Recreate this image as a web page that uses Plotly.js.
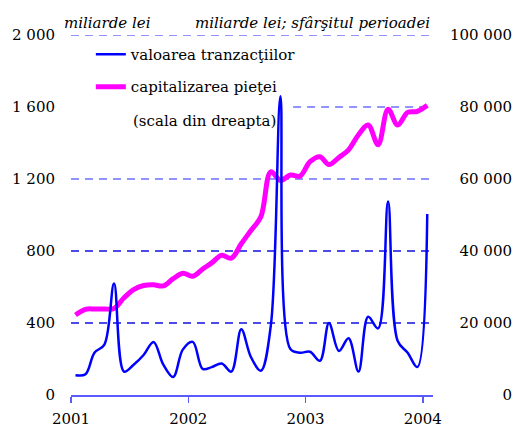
<!DOCTYPE html>
<html><head><meta charset="utf-8">
<script src="https://cdn.plot.ly/plotly-3.0.1.min.js"></script>
<style>html,body{margin:0;padding:0;background:#fff}</style>
</head><body><div id="chart" style="width:512px;height:428px"></div>
<script>
const months = [];
for (let y = 2001; y <= 2004; y++) for (let m = 1; m <= 12; m++) {
  if (y === 2004 && m > 1) break;
  months.push(y + '-' + String(m).padStart(2, '0') + '-15');
}
const tranzactii = [110,115,235,280,620,130,168,222,295,170,100,252,295,145,155,175,130,365,211,135,385,1660,255,235,240,190,400,245,315,130,435,370,1075,300,235,155,1005];
const capitalizare = [22200,23800,23900,23900,24000,27000,29300,30400,30600,30300,32300,33800,33000,35000,36700,38800,38000,42000,45700,49500,62000,59600,61100,60800,64800,66200,64000,66000,68100,72300,75000,69500,79400,75000,78500,78800,80500];
const leftTicks = [0,400,800,1200,1600,2000];
const leftLabels = ['0','400','800','1 200','1 600','2 000'];
const rightTicks = [0,20000,40000,60000,80000,100000];
const rightLabels = ['0','20 000','40 000','60 000','80 000','100 000'];
const yearTicks = ['2001-01-01','2002-01-01','2003-01-01','2004-01-01'];
const yearLabels = ['2001','2002','2003','2004'];
const seriesNames = ['valoarea tranzacţiilor','capitalizarea pieţei'];

const FONT = 'DejaVu Serif';
const FS = 15;
const gridDark = '#1010e0', gridLight = '#7070ff';
function hline(v, color, x0) {
  return {type:'line', xref:'x domain', yref:'y2', x0:x0, x1:1, y0:v, y1:v, layer:'below',
          line:{color:color, width:1.3, dash:'8px,6px'}};
}
const tf = {family:FONT, size:FS, color:'#000'};

const data = [
  {x: months, y: capitalizare, name: seriesNames[1], yaxis: 'y', type:'scatter', mode:'lines',
   line:{color:'#ff00ff', width:5, shape:'spline', smoothing:1}, legendrank:2, legendgroup:'b'},
  {x: months, y: tranzactii, name: seriesNames[0], yaxis: 'y2', type:'scatter', mode:'lines',
   line:{color:'#0000ff', width:2.5, shape:'spline', smoothing:1}, legendrank:1, legendgroup:'a'}
];

const layout = {
  width:512, height:428,
  margin:{l:71, r:0, t:35, b:33},
  paper_bgcolor:'#fff', plot_bgcolor:'rgba(0,0,0,0)',
  font:tf,
  showlegend:true,
  legend:{x:0.045, y:0.992, xanchor:'left', yanchor:'top', bgcolor:'rgba(0,0,0,0)',
          font:tf, tracegroupgap:10},
  xaxis:{type:'date', domain:[0,0.8202], range:['2001-01-01','2004-02-01'],
         tickmode:'array', tickvals:yearTicks, ticktext:yearLabels,
         showline:true, linecolor:'#5a5aff', linewidth:1.5, ticks:'outside', ticklen:6,
         tickcolor:'#5a5aff', tickwidth:1.5, showgrid:false, zeroline:false, tickfont:tf,
         ticklabelstandoff:3},
  yaxis:{range:[0,100000], anchor:'free', position:1, side:'left',
         tickmode:'array', tickvals:rightTicks, ticktext:rightLabels,
         showgrid:false, zeroline:false, showline:false, ticks:'', tickfont:tf},
  yaxis2:{range:[0,2000], overlaying:'y', anchor:'x', side:'left',
          tickmode:'array', tickvals:leftTicks, ticktext:leftLabels,
          showgrid:false, zeroline:false, showline:false,
          ticks:'outside', ticklen:12, tickcolor:'rgba(0,0,0,0)', tickfont:tf},
  shapes:[hline(400, gridDark, 0), hline(800, gridDark, 0), hline(1200, gridLight, 0),
          hline(1600, gridLight, 0.614), hline(2000, gridLight, 0)],
  annotations:[
    {text:'miliarde lei', xref:'paper', yref:'paper', x:-0.0204, y:1.032, xanchor:'left', yanchor:'middle',
     showarrow:false, font:{family:FONT, size:FS, color:'#000', style:'italic'}},
    {text:'miliarde lei; sfârşitul perioadei', xref:'paper', yref:'paper', x:0.8186, y:1.032, xanchor:'right', yanchor:'middle',
     showarrow:false, font:{family:FONT, size:FS, color:'#000', style:'italic'}},
    {text:'(scala din dreapta)', xref:'paper', yref:'paper', x:0.136, y:0.761, xanchor:'left', yanchor:'middle',
     showarrow:false, font:tf}
  ]
};
Plotly.newPlot('chart', data, layout, {displayModeBar:false, staticPlot:true});
</script></body></html>
